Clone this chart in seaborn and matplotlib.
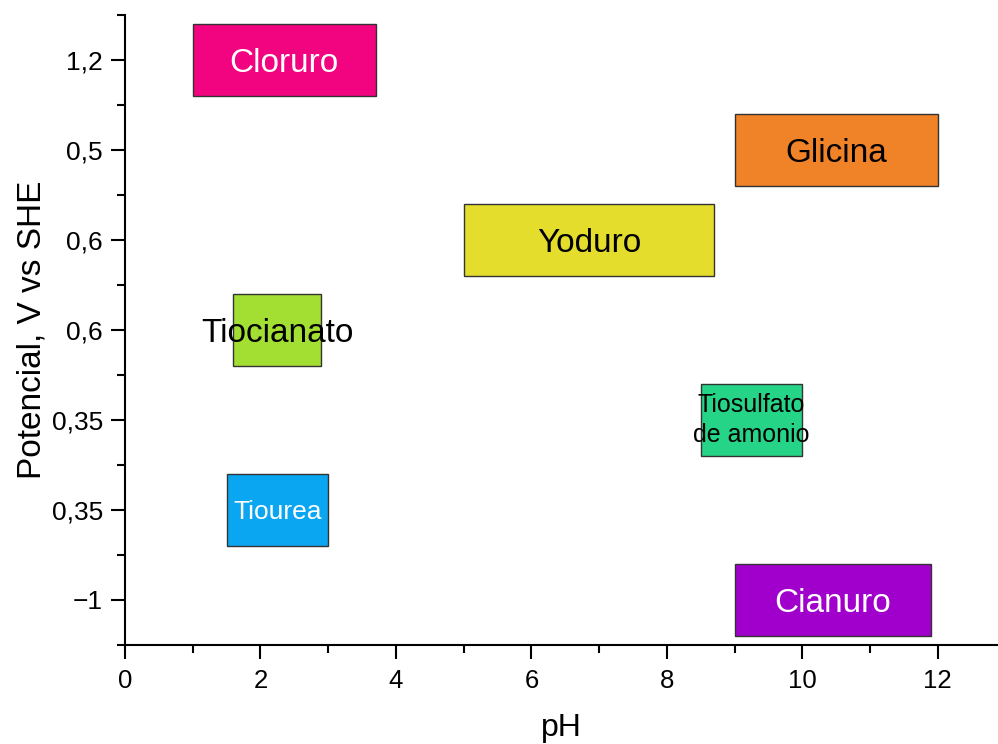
import matplotlib
matplotlib.use("Agg")
import matplotlib.pyplot as plt
import seaborn as sns
import pandas as pd
from matplotlib.ticker import MultipleLocator, FixedLocator

compounds = ["Cloruro", "Glicina", "Yoduro", "Tiocianato",
             "Tiosulfato\nde amonio", "Tiourea", "Cianuro"]
ph_start = [1.0, 9.0, 5.0, 1.6, 8.5, 1.5, 9.0]
ph_end = [3.7, 12.0, 8.7, 2.9, 10.0, 3.0, 11.9]
potential_labels = ["1,2", "0,5", "0,6", "0,6", "0,35", "0,35", "\u22121"]
box_colors = ["#F2037F", "#F08227", "#E5DD2C", "#A3DE33", "#26D487", "#0BA6F2", "#A100CC"]
text_colors = ["white", "black", "black", "black", "black", "white", "white"]
text_sizes = [24, 24, 24, 24, 18, 19, 24]

df = pd.DataFrame({"compound": compounds, "start": ph_start, "end": ph_end})
df["span"] = df["end"] - df["start"]

sns.set_theme(style="ticks")
plt.rcParams["font.family"] = ["Liberation Sans", "DejaVu Sans"]
plt.rcParams["text.color"] = "black"
plt.rcParams["axes.labelcolor"] = "black"
plt.rcParams["xtick.color"] = "black"
plt.rcParams["ytick.color"] = "black"

fig = plt.figure(figsize=(9.98, 7.44), dpi=100)
ax = fig.add_axes([0.1253, 0.1331, 0.8747, 0.8467])

sns.barplot(data=df, x="span", y="compound", hue="compound", palette=box_colors,
            orient="h", width=0.8, edgecolor="#333333", linewidth=1.0,
            saturation=1, legend=False, ax=ax)

# shift each box to its starting pH
for p in ax.patches:
    i = int(round(p.get_y() + p.get_height() / 2))
    p.set_x(ph_start[i])

for i, name in enumerate(compounds):
    multi = "\n" in name
    ax.text((ph_start[i] + ph_end[i]) / 2, i, name, ha="center",
            va="center" if multi else "center_baseline",
            color=text_colors[i], fontsize=text_sizes[i],
            linespacing=1.35 if multi else 1.0)

ax.set_yticks(range(len(compounds)))
ax.set_yticklabels(potential_labels)
ax.yaxis.set_minor_locator(FixedLocator([i - 0.5 for i in range(len(compounds) + 1)]))
ax.set_ylim(len(compounds) - 0.5, -0.5)
ax.set_xlim(0, 12.89)
ax.xaxis.set_major_locator(MultipleLocator(2))
ax.xaxis.set_minor_locator(MultipleLocator(1))

ax.tick_params(which="major", length=10, width=1.5, color="black", labelcolor="black")
ax.tick_params(axis="x", which="major", labelsize=18.5, pad=7)
ax.tick_params(axis="y", which="major", labelsize=19, pad=6)
ax.tick_params(which="minor", length=6, width=1.5, color="black")
sns.despine(ax=ax)
for s in ["left", "bottom"]:
    ax.spines[s].set_linewidth(1.5)
    ax.spines[s].set_color("black")

ax.set_xlabel("pH", fontsize=23, labelpad=15, color="black")
ax.set_ylabel("Potencial, V vs SHE", fontsize=24, labelpad=3, color="black")

fig.savefig("out.png", dpi=100)
